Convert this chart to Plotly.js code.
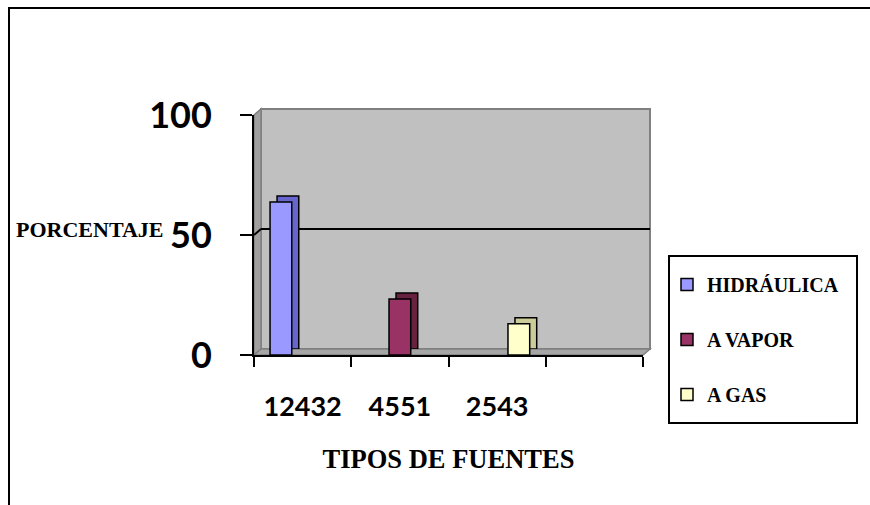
<!DOCTYPE html>
<html>
<head>
<meta charset="utf-8">
<script src="https://cdn.plot.ly/plotly-3.0.1.min.js"></script>
<style>
  html, body { margin: 0; padding: 0; background: #ffffff; }
  #chart { width: 870px; height: 505px; }
</style>
</head>
<body>
<div id="chart"></div>
<script>
// ---- data ----
const categories = ['12432', '4551', '2543'];
const seriesNames = ['HIDRÁULICA', 'A VAPOR', 'A GAS'];
const seriesValues = [63.7, 23.3, 13.0];
const yTickValues = [0, 50, 100];
const frontColors = ['#9999FF', '#993366', '#FFFFCC'];
const sideColors = ['#6666CC', '#66223F', '#CCCC99'];

// ---- geometry helpers (pixel -> paper) ----
const W = 870, H = 505;
const px = x => x / W;
const py = y => 1 - y / H;
const front = { x0: 254, x1: 643, y0: 115, y1: 355 };
const dx = 7, dy = 6;
const back = { x0: front.x0 + dx, x1: front.x1 + dx, y0: front.y0 - dy, y1: front.y1 - dy };

const traces = [];
// back (depth) layer of bars, on the shifted back frame
seriesNames.forEach((name, i) => {
  traces.push({
    type: 'bar', name: name, x: [i], y: [seriesValues[i]],
    xaxis: 'x', yaxis: 'y', offsetgroup: 'g' + i,
    marker: { color: sideColors[i], line: { color: '#000000', width: 1.5 } },
    showlegend: false, hoverinfo: 'skip'
  });
});
// front faces of bars, on the front frame
seriesNames.forEach((name, i) => {
  traces.push({
    type: 'bar', name: name, x: [i], y: [seriesValues[i]],
    xaxis: 'x2', yaxis: 'y2', legendgroup: 'g' + i, offsetgroup: 'g' + i,
    marker: { color: frontColors[i], line: { color: '#000000', width: 1.5 } }
  });
});

const gray = '#808080';
const shapes = [
  // outer chart border
  { type: 'rect', xref: 'paper', yref: 'paper', x0: px(9), x1: 1.5, y0: -0.5, y1: py(8),
    line: { color: '#000000', width: 2 }, fillcolor: 'rgba(0,0,0,0)' },
  // back wall
  { type: 'rect', xref: 'paper', yref: 'paper', layer: 'below',
    x0: px(back.x0), x1: px(back.x1), y0: py(back.y1), y1: py(back.y0),
    fillcolor: '#C0C0C0', line: { color: gray, width: 2 } },
  // left side wall
  { type: 'path', xref: 'paper', yref: 'paper', layer: 'below',
    path: `M${px(front.x0)},${py(front.y0)} L${px(back.x0)},${py(back.y0)} L${px(back.x0)},${py(back.y1)} L${px(front.x0)},${py(front.y1)} Z`,
    fillcolor: '#A0A0A0', line: { color: gray, width: 1.5 } },
  // floor
  { type: 'path', xref: 'paper', yref: 'paper', layer: 'below',
    path: `M${px(front.x0)},${py(front.y1)} L${px(back.x0)},${py(back.y1)} L${px(back.x1)},${py(back.y1)} L${px(front.x1)},${py(front.y1)} Z`,
    fillcolor: '#A6A6A6', line: { color: gray, width: 1.5 } },
  // connector from front 50 tick to wall gridline
  { type: 'line', xref: 'paper', yref: 'paper',
    x0: px(front.x0), y0: py(235), x1: px(back.x0), y1: py(229),
    line: { color: '#000000', width: 2 } },
  // legend box
  { type: 'rect', xref: 'paper', yref: 'paper', x0: px(669), x1: px(857), y0: py(423), y1: py(256),
    line: { color: '#000000', width: 2 }, fillcolor: '#FFFFFF' }
];

const tickFont = { family: 'Lato', weight: 'bold', color: '#000000' };
const serifBold = { family: 'Liberation Serif', weight: 'bold', color: '#000000' };

const layout = {
  width: W, height: H,
  margin: { l: 0, r: 0, t: 0, b: 0 },
  paper_bgcolor: '#FFFFFF',
  plot_bgcolor: 'rgba(0,0,0,0)',
  font: { family: 'Liberation Serif', color: '#000000' },
  barmode: 'group',
  bargap: 0.33,
  bargroupgap: 0,
  showlegend: true,
  xaxis: {
    domain: [px(back.x0), px(back.x1)], anchor: 'y',
    range: [-0.5, 3.5], visible: false, fixedrange: true
  },
  yaxis: {
    domain: [py(back.y1), py(back.y0)], anchor: 'x',
    range: [0, 100], tickvals: [50], showticklabels: false, ticks: '',
    showgrid: true, gridcolor: '#000000', gridwidth: 2, zeroline: false, showline: false,
    fixedrange: true
  },
  xaxis2: {
    domain: [px(front.x0), px(front.x1)], anchor: 'y2',
    range: [-0.5, 3.5], tickvals: [0, 1, 2], ticktext: categories,
    ticks: '', showgrid: false, zeroline: false,
    showline: true, linecolor: '#000000', linewidth: 2,
    minor: { ticks: 'outside', tick0: -0.5, dtick: 1, ticklen: 10, tickwidth: 2, tickcolor: '#000000', showgrid: false },
    tickfont: Object.assign({ size: 27 }, tickFont),
    ticklabelstandoff: 27,
    automargin: false,
    title: { text: 'TIPOS DE FUENTES', font: Object.assign({ size: 26.5 }, serifBold), standoff: 28 },
    fixedrange: true
  },
  yaxis2: {
    domain: [py(front.y1), py(front.y0)], anchor: 'x2',
    range: [0, 100], tickvals: yTickValues,
    ticks: 'outside', ticklen: 12, tickwidth: 2, tickcolor: '#000000',
    showgrid: false, zeroline: false,
    showline: true, linecolor: '#000000', linewidth: 2,
    tickfont: Object.assign({ size: 36 }, tickFont),
    ticklabelstandoff: 21,
    automargin: false,
    fixedrange: true
  },
  legend: {
    x: px(667), y: py(265), xanchor: 'left', yanchor: 'top',
    bgcolor: 'rgba(0,0,0,0)', borderwidth: 0,
    font: Object.assign({ size: 20 }, serifBold),
    traceorder: 'grouped', tracegroupgap: 26
  },
  annotations: [
    { text: 'PORCENTAJE', xref: 'paper', yref: 'paper', x: px(90), y: py(230),
      xanchor: 'center', yanchor: 'middle', showarrow: false,
      font: Object.assign({ size: 22 }, serifBold) }
  ],
  shapes: shapes
};

Plotly.newPlot('chart', traces, layout, { displayModeBar: false, staticPlot: true });
</script>
</body>
</html>
